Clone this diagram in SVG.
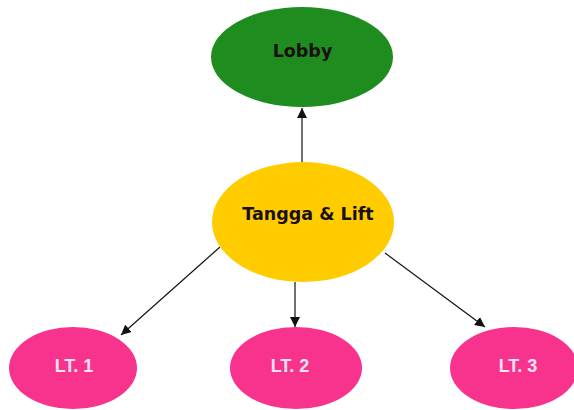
<svg xmlns="http://www.w3.org/2000/svg" width="574" height="410" viewBox="0 0 574 410">
<style>
.lbl{font-family:"DejaVu Sans","Liberation Sans",sans-serif;font-weight:bold;text-anchor:middle}
.dark{fill:#1a1010;font-size:17.5px}
.light{fill:#fbe3f0;font-size:18px;font-family:"Liberation Sans",Arial,sans-serif}
.edge{stroke:#111;stroke-width:1.2;fill:none;marker-end:url(#ah)}
</style>
<defs>
<marker id="ah" viewBox="0 0 10 10" refX="10" refY="5" markerWidth="10" markerHeight="10" markerUnits="userSpaceOnUse" orient="auto">
<path d="M0,0 L10,5 L0,10 z" fill="#111"/>
</marker>
</defs>
<rect width="574" height="410" fill="#fff"/>
<g id="connectors">
<line class="edge" x1="302" y1="163" x2="302" y2="108"/>
<line class="edge" x1="220" y1="247" x2="121" y2="335"/>
<line class="edge" x1="295" y1="282" x2="295" y2="327"/>
<line class="edge" x1="385" y1="253" x2="485" y2="327"/>
</g>
<g id="lobby">
<ellipse cx="302" cy="57" rx="91" ry="50" fill="#1e8c1e"/>
<text class="lbl dark" x="302.5" y="57">Lobby</text>
</g>
<g id="tangga">
<ellipse cx="303" cy="222" rx="91" ry="60" fill="#ffcc00"/>
<text class="lbl dark" x="308" y="220">Tangga &amp; Lift</text>
</g>
<g id="lt1">
<ellipse cx="73" cy="368" rx="64" ry="41" fill="#f8338e"/>
<text class="lbl light" x="74" y="372">LT. 1</text>
</g>
<g id="lt2">
<ellipse cx="296" cy="368" rx="66" ry="41" fill="#f8338e"/>
<text class="lbl light" x="290" y="372">LT. 2</text>
</g>
<g id="lt3">
<ellipse cx="514" cy="368" rx="64" ry="41" fill="#f8338e"/>
<text class="lbl light" x="518" y="372">LT. 3</text>
</g>
</svg>
